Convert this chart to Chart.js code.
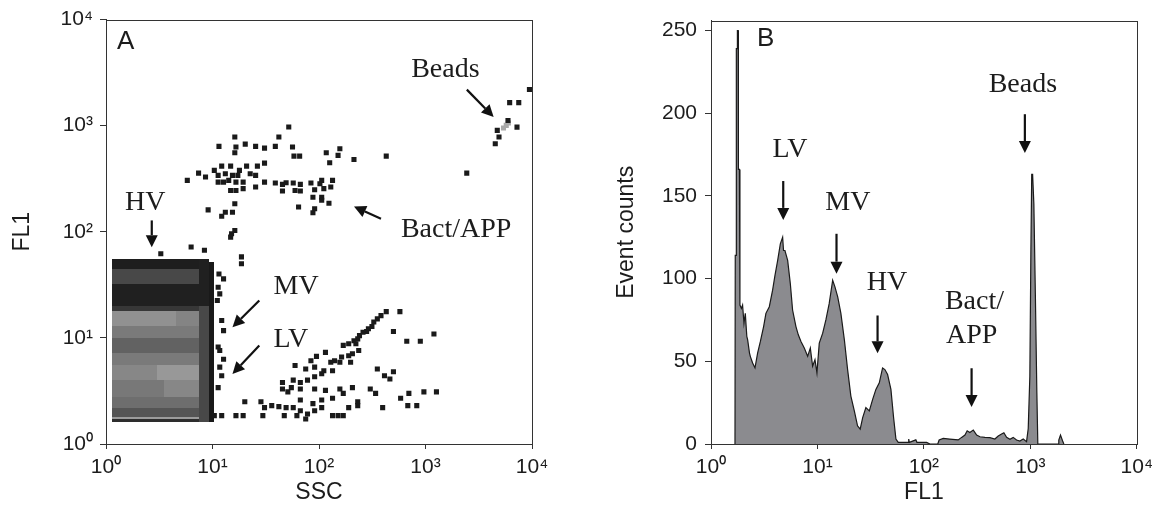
<!DOCTYPE html>
<html><head><meta charset="utf-8">
<script src="https://cdn.jsdelivr.net/npm/chart.js@4.4.1/dist/chart.umd.min.js"></script>
<style>
html,body{margin:0;padding:0;background:#fff;}
#wrap{position:relative;width:1159px;height:508px;overflow:hidden;}
#cA{position:absolute;left:0;top:0;}
#cB{position:absolute;left:580px;top:0;}
</style></head><body>
<div id="wrap"><canvas id="cA" width="580" height="508"></canvas><canvas id="cB" width="579" height="508"></canvas></div>
<script>
// ---------- tick values / labels ----------
const decadeTicks = [1, 10, 100, 1000, 10000];
const decadeLabels = ['10⁰', '10¹', '10²', '10³', '10⁴'];
const countTicks = [0, 50, 100, 150, 200, 250];

// ---------- Panel A : SSC vs FL1 events ----------
const beadsSSC = [9460, 7510, 6170, 5950, 7230, 4720, 4900, 4520, 2440, 428];
const beadsFL1 = [2190, 1650, 1650, 1120, 970, 904, 782, 676, 357, 517];
const beadCoreSSC = [5730, 5400, 6000];
const beadCoreFL1 = [1007, 950, 1060];
const bactSSC = [52, 42, 16.2, 11.5, 16.6, 20.3, 25.4, 30.8, 38.9, 56.4, 157, 117, 213, 16.2, 58.2, 65.8, 151, 126, 30.8, 26.4, 20.9, 12.2, 14.8, 17.9, 10.4, 7.4, 5.8, 8.6, 11.3, 13.2, 15.4, 17.3, 22.6, 25.4, 14.2, 11.3, 12.7, 16.6, 19.4, 30.8, 38.9, 45.4, 49.1, 57.3, 66.8, 84, 102, 134, 106, 19.4, 14.8, 16.6, 25.4, 45.4, 59.6, 66.8, 91, 111, 129, 87.7, 106, 106, 124, 64.3, 91, 87.7, 16.2, 13.2, 15.4, 12.2, 9.1, 16.2, 15.1, 14.8, 18.7, 18.7, 6.3, 8.4, 3.27];
const bactFL1 = [971, 782, 782, 638, 629, 671, 638, 615, 638, 629, 607, 556, 481, 556, 517, 517, 525, 448, 444, 416, 416, 416, 416, 379, 379, 357, 305, 328, 340, 352, 340, 340, 352, 340, 305, 294, 294, 294, 294, 294, 288, 280, 290, 288, 280, 288, 284, 305, 305, 255, 245, 245, 264, 242, 245, 242, 249, 255, 264, 212, 212, 198, 186, 171, 165, 151, 184, 153, 153, 140, 161, 103, 96, 89, 58, 50, 72, 67, 62];
const edgeSSC = [11.5, 12.7, 11.3, 11.7, 11.1, 12.2, 12.7, 11.3, 11.7, 12.7, 11.7, 12.2, 11.3, 12.2, 10.4];
const edgeFL1 = [40, 36, 30, 26, 22.5, 14.6, 11.7, 8.2, 7.6, 6.3, 5.3, 4.4, 3.4, 1.85, 1.85];
const lowSSC = [575, 428, 382, 353, 327, 314, 291, 280, 259, 240, 231, 213, 190, 222, 169, 236, 206, 1200, 500, 667, 894, 115, 94.7, 84, 129, 157, 198, 140, 163, 190, 353, 500, 412, 463, 59.6, 75, 91, 111, 106, 134, 91, 78, 66.8, 57.3, 45.4, 55, 66.8, 91, 115, 157, 206, 303, 340, 966, 1267, 698, 584, 828, 682, 396, 231, 169, 134, 106, 87.7, 66.8, 51, 45.4, 36, 42, 49.1, 57.3, 66.8, 78, 106, 151, 169, 134, 231, 190, 30.8, 28.5, 20.1, 19.4, 16.6, 29.7, 47.2, 62, 75, 91];
const lowFL1 = [17.7, 17.7, 16.2, 15.1, 14.1, 12.8, 12.2, 11.5, 11.3, 10.5, 9.8, 9.4, 8.8, 8.8, 8.5, 7.6, 7.1, 10.9, 11.5, 9.3, 9.3, 7.3, 6.7, 6.1, 5.9, 5.9, 5.9, 6.1, 6.6, 6.8, 5.1, 4.8, 4.4, 4.1, 5.5, 5.1, 5.3, 4.9, 4.6, 4.9, 4.3, 4.0, 3.8, 4.0, 3.8, 3.4, 3.3, 3.3, 3.2, 3.3, 3.4, 3.3, 3.0, 3.1, 3.1, 3.0, 2.7, 2.3, 2.3, 2.2, 2.5, 3.0, 2.7, 2.6, 2.4, 2.6, 3.1, 3.3, 2.3, 2.25, 2.2, 2.2, 2.06, 1.92, 2.2, 1.85, 1.85, 1.85, 2.3, 2.2, 2.2, 2.5, 2.5, 1.85, 1.85, 1.85, 1.85, 1.85, 1.72, 2.06];

// dense virus block: [SSC from, SSC to, FL1 from, FL1 to, grey level 0-255]
const blockCells = [
  [1.13, 7.5, 1.62, 1.72, 45],
  [1.13, 7.5, 1.72, 1.80, 155],
  [1.13, 7.5, 1.80, 2.2, 85],
  [1.13, 7.5, 2.2, 2.8, 110],
  [1.13, 3.5, 2.8, 4.0, 120],
  [3.5, 7.5, 2.8, 4.0, 135],
  [1.13, 3.0, 4.0, 5.5, 135],
  [3.0, 7.5, 4.0, 5.5, 152],
  [1.13, 7.5, 5.5, 7.2, 122],
  [1.13, 7.5, 7.2, 10, 98],
  [1.13, 7.5, 10, 13, 122],
  [1.13, 4.5, 13, 18, 145],
  [4.5, 7.5, 13, 18, 132],
  [1.13, 7.5, 18, 20, 55],
  [1.13, 7.5, 20, 32, 32],
  [1.13, 7.5, 32, 45, 72],
  [1.13, 7.5, 45, 55, 30],
  [7.5, 9.2, 1.62, 20, 72],
  [7.5, 9.2, 20, 55, 32],
  [9.2, 10.3, 1.62, 52, 25]
];

// ---------- Panel B : FL1 histogram ----------
const histFL1 = [1.68, 1.69, 1.72, 1.73, 1.76, 1.77, 1.80, 1.81, 1.85, 1.87, 1.93, 1.98, 2.04, 2.10, 2.17, 2.21, 2.30, 2.34, 2.46, 2.59, 2.74, 2.91, 3.12, 3.28, 3.53, 3.79, 3.99, 4.23, 4.48, 4.71, 4.80, 4.95, 5.25, 5.56, 5.84, 6.28, 6.61, 7.00, 7.52, 8.09, 8.57, 9.01, 9.48, 9.89, 10.4, 11.2, 12.0, 12.9, 13.9, 14.6, 15.5, 16.6, 17.9, 19.2, 20.6, 22.2, 23.8, 25.2, 26.6, 28.5, 30.7, 33.0, 35.4, 38.1, 40.9, 43.0, 45.6, 49.0, 51.9, 54.6, 57.4, 71, 72, 73, 84, 86, 106, 114, 135, 139, 152, 175, 210, 226, 243, 255, 270, 291, 313, 336, 374, 417, 464, 499, 537, 564, 598, 643, 690, 742, 797, 857, 921, 955, 989, 1011, 1030, 1050, 1079, 1114, 1151, 1175, 1824, 1850, 1919, 2006, 2064];
const histCounts = [0, 114, 114, 239, 239, 250, 250, 166, 166, 84, 82, 84, 73, 79, 65, 63, 55, 53, 49, 46, 55, 62, 71, 79, 83, 93, 102, 111, 121, 125, 117, 117, 111, 97, 81, 71, 66, 62, 58, 53, 58, 47, 51, 43, 61, 67, 75, 85, 99, 95, 89, 79, 63, 45, 29, 20, 11, 9, 16, 22, 20, 27, 33, 37, 46, 45, 42, 33, 16, 3, 1, 1, 3, 1, 2.5, 1, 1, 0, 0, 2.4, 3.4, 3, 2.5, 4, 5.4, 8, 7, 8.4, 5.4, 4.4, 4, 3.8, 3, 4.8, 6, 6.8, 4, 2.8, 4, 2.4, 1.8, 3, 1.4, 9.4, 41, 115, 163, 163, 145, 91, 31, 0, 0, 2.4, 5.4, 2, 0];

// ---------- helpers ----------
const pts = (xs, ys) => xs.map((v, i) => ({x: v, y: ys[i]}));
const SANS = '"Liberation Sans", Arial, Helvetica, sans-serif';
const SERIF = '"Liberation Serif", "Times New Roman", serif';
const INK = '#1c1c1c';
Chart.defaults.font.family = SANS;
Chart.defaults.color = INK;

function drawArrow(ctx, x1, y1, x2, y2) {
  const a = Math.atan2(y2 - y1, x2 - x1), hl = 12, hw = 6;
  const bx = x2 - hl * Math.cos(a), by = y2 - hl * Math.sin(a);
  ctx.beginPath(); ctx.moveTo(x1, y1); ctx.lineTo(bx, by);
  ctx.lineWidth = 2.2; ctx.strokeStyle = '#111'; ctx.stroke();
  ctx.beginPath(); ctx.moveTo(x2, y2);
  ctx.lineTo(bx + hw * Math.sin(a), by - hw * Math.cos(a));
  ctx.lineTo(bx - hw * Math.sin(a), by + hw * Math.cos(a));
  ctx.closePath(); ctx.fillStyle = '#111'; ctx.fill();
}

const framePlugin = {
  id: 'frame',
  afterDraw(chart) {
    const {ctx, chartArea: c} = chart;
    ctx.save(); ctx.strokeStyle = '#333'; ctx.lineWidth = 1;
    ctx.strokeRect(Math.round(c.left) + 0.5, Math.round(c.top) + 0.5, Math.round(c.right - c.left), Math.round(c.bottom - c.top));
    ctx.restore();
  }
};

const notesPlugin = {
  id: 'notes',
  afterDatasetsDraw(chart, args, opts) {
    const {ctx, scales: {x, y}} = chart;
    ctx.save();
    (opts.labels || []).forEach(l => {
      ctx.font = l.font; ctx.fillStyle = INK; ctx.textAlign = l.align || 'center'; ctx.textBaseline = 'alphabetic';
      ctx.fillText(l.text, x.getPixelForValue(l.x), y.getPixelForValue(l.y));
    });
    (opts.arrows || []).forEach(a => drawArrow(ctx, x.getPixelForValue(a[0]), y.getPixelForValue(a[1]), x.getPixelForValue(a[2]), y.getPixelForValue(a[3])));
    ctx.restore();
  }
};

const blockPlugin = {
  id: 'block',
  beforeDatasetsDraw(chart, args, opts) {
    const {ctx, scales: {x, y}} = chart;
    ctx.save();
    (opts.cells || []).forEach(c => {
      const x0 = Math.round(x.getPixelForValue(c[0])), x1 = Math.round(x.getPixelForValue(c[1]));
      const y0 = Math.round(y.getPixelForValue(c[2])), y1 = Math.round(y.getPixelForValue(c[3]));
      ctx.fillStyle = `rgb(${c[4]},${c[4]},${c[4]})`;
      ctx.fillRect(x0, y1, x1 - x0, y0 - y1);
    });
    ctx.restore();
  }
};

function logAxis(title, fixH, pad, tickPad, tickLen) {
  return {
    type: 'logarithmic', min: 1, max: 10000,
    afterBuildTicks: s => { s.ticks = decadeTicks.map(v => ({value: v})); },
    ticks: {callback: (v, i) => decadeLabels[i], font: {size: 21}, color: INK, padding: tickPad, autoSkip: false, maxRotation: 0},
    grid: {drawOnChartArea: false, drawTicks: true, tickLength: tickLen, color: '#333'},
    border: {display: true, color: '#333'},
    title: {display: true, text: title, font: {size: 23}, color: INK, padding: pad},
    afterFit: s => { if (fixH.h) s.height = fixH.h; if (fixH.w) s.width = fixH.w; }
  };
}

const common = {
  responsive: false, animation: false, events: [],
  plugins: {legend: {display: false}, tooltip: {enabled: false}}
};
const sq = {pointStyle: 'rect', radius: 3.6, backgroundColor: '#1a1a1a', borderWidth: 0};

// ---------- Chart A ----------
new Chart(document.getElementById('cA'), {
  type: 'scatter',
  data: {datasets: [
    Object.assign({data: pts(bactSSC, bactFL1)}, sq),
    Object.assign({data: pts(edgeSSC, edgeFL1)}, sq),
    Object.assign({data: pts(lowSSC, lowFL1)}, sq),
    Object.assign({data: pts(beadsSSC, beadsFL1)}, sq),
    Object.assign({data: pts(beadCoreSSC, beadCoreFL1)}, sq, {backgroundColor: '#a8a8a8'})
  ]},
  options: Object.assign({}, common, {
    layout: {padding: {left: 0, top: 19, right: 48, bottom: 0}},
    scales: {
      x: logAxis('SSC', {h: 64}, {top: 0, bottom: 2}, 6, 5),
      y: logAxis('FL1', {w: 106}, {top: 9, bottom: 0}, 7, 6)
    },
    plugins: Object.assign({}, common.plugins, {
      block: {cells: blockCells},
      notes: {
        labels: [
          {text: 'A', x: 1.27, y: 5330, font: '26px ' + SANS, align: 'left'},
          {text: 'Beads', x: 1537, y: 2878, font: '28px ' + SERIF},
          {text: 'Bact/APP', x: 1938, y: 89, font: '28px ' + SERIF},
          {text: 'HV', x: 2.34, y: 159, font: '28px ' + SERIF},
          {text: 'MV', x: 37.4, y: 26.0, font: '28px ' + SERIF, align: 'left'},
          {text: 'LV', x: 37.4, y: 8.17, font: '28px ' + SERIF, align: 'left'}
        ],
        arrows: [[2444, 2188, 4365, 1208], [382, 133, 213, 173], [2.69, 128, 2.69, 71.6], [27.5, 22.5, 15.4, 12.6], [27.5, 8.47, 15.4, 4.57]]
      }
    })
  }),
  plugins: [blockPlugin, notesPlugin, framePlugin]
});

// ---------- Chart B ----------
new Chart(document.getElementById('cB'), {
  type: 'line',
  data: {datasets: [{
    data: pts(histFL1, histCounts), fill: 'origin', backgroundColor: '#8b8b8f',
    borderColor: '#1a1a1a', borderWidth: 1.2, pointRadius: 0, tension: 0
  }]},
  options: Object.assign({}, common, {
    layout: {padding: {left: 0, top: 19, right: 22, bottom: 0}},
    scales: {
      x: logAxis('FL1', {h: 64}, {top: 0, bottom: 2}, 6, 5),
      y: {
        type: 'linear', min: 0, max: 256,
        afterBuildTicks: s => { s.ticks = countTicks.map(v => ({value: v})); },
        ticks: {font: {size: 21}, color: INK, padding: 8},
        grid: {drawOnChartArea: false, drawTicks: true, tickLength: 6, color: '#333'},
        border: {display: true, color: '#333'},
        title: {display: true, text: 'Event counts', font: {size: 23}, color: INK, padding: {top: 33, bottom: 0}},
        afterFit: s => { s.width = 131; }
      }
    },
    plugins: Object.assign({}, common.plugins, {
      notes: {
        labels: [
          {text: 'B', x: 2.70, y: 240.4, font: '26px ' + SANS, align: 'left'},
          {text: 'Beads', x: 851, y: 213, font: '28px ' + SERIF},
          {text: 'LV', x: 5.52, y: 173.5, font: '28px ' + SERIF},
          {text: 'MV', x: 19.3, y: 141.6, font: '28px ' + SERIF},
          {text: 'HV', x: 45.0, y: 93.4, font: '28px ' + SERIF},
          {text: 'Bact/', x: 157.5, y: 81.9, font: '28px ' + SERIF, align: 'left'},
          {text: 'APP', x: 161, y: 60.8, font: '28px ' + SERIF, align: 'left'}
        ],
        arrows: [[888, 199.4, 888, 175.9], [4.77, 159, 4.77, 135.5], [15.1, 127.1, 15.1, 103], [36.7, 77.7, 36.7, 54.8], [280.5, 45.8, 280.5, 22.3]]
      }
    })
  }),
  plugins: [notesPlugin, framePlugin]
});
</script>
</body></html>
